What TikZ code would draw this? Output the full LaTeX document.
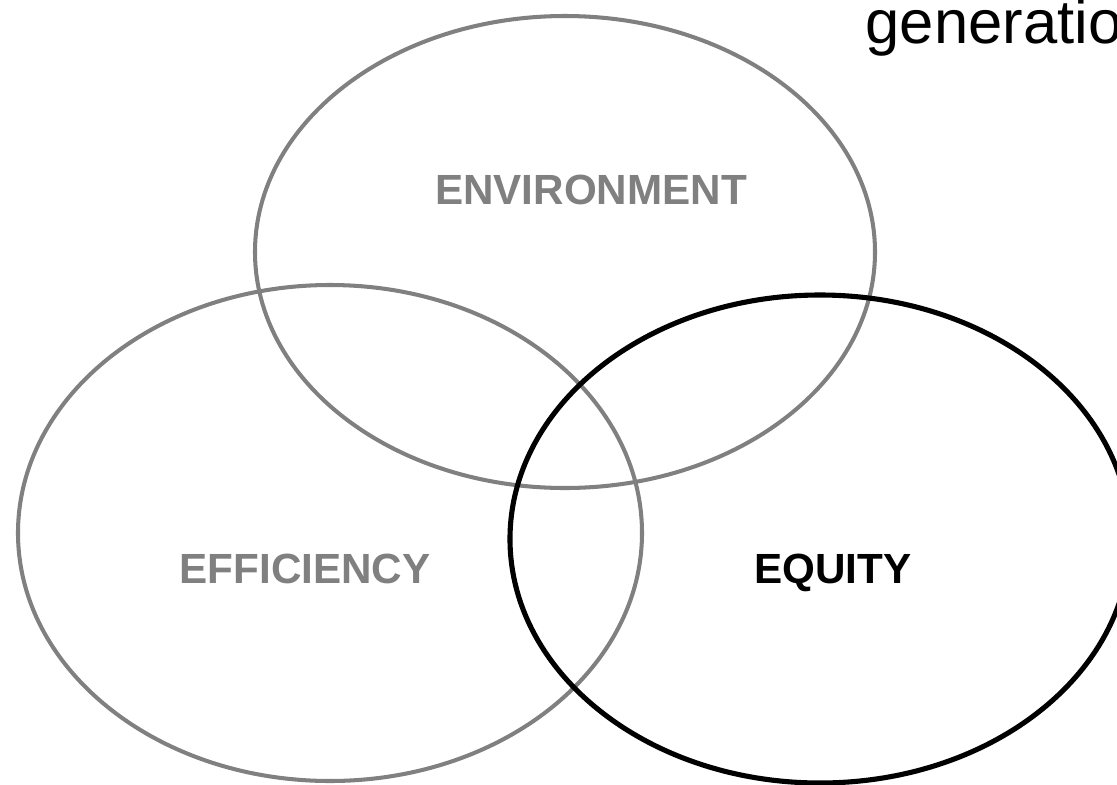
\documentclass[tikz,border=0pt]{standalone}
\usepackage{fontspec}
\setmainfont{Liberation Sans}
\definecolor{ringgray}{HTML}{808080}
\tikzstyle{ring}=[draw=ringgray, line width=1.15pt]
\tikzstyle{keyring}=[draw=black, line width=1.45pt]
\tikzstyle{goal}=[anchor=base, inner sep=0pt, font=\fontsize{12}{14}\selectfont\bfseries, text=ringgray]
\tikzstyle{caption}=[anchor=base west, inner sep=0pt, font=\fontsize{17.5}{20}\selectfont]

\begin{document}
\begin{tikzpicture}[x=0.01cm, y=-0.01cm]
\useasboundingbox (0,0) rectangle (1117,784);
\clip (0,0) rectangle (1117,784);

% centres of the three rings
\coordinate (env) at (565,252);
\coordinate (eff) at (330,533);
\coordinate (equ) at (820,539);

\draw[ring] (env) ellipse (310 and 236);
\draw[ring] (eff) ellipse (312 and 248);
\draw[keyring] (equ) ellipse (310 and 244);

\node[goal] (envtext) at (591,204) {ENVIRONMENT};
\node[goal] (efftext) at (305,583) {EFFICIENCY};
\node[goal, text=black] (equtext) at (833,583) {EQUITY};

\node[caption] (gen) at (865,43) {generatio};

\end{tikzpicture}
\end{document}
